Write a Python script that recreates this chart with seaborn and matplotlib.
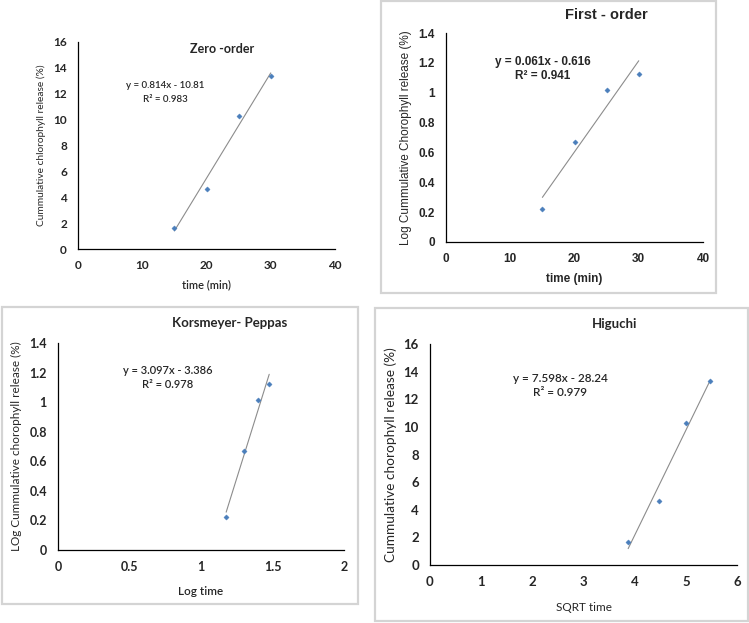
import matplotlib
matplotlib.use("Agg")
import matplotlib.pyplot as plt
import seaborn as sns
import pandas as pd
import numpy as np
from matplotlib.patches import Rectangle

sns.set_theme(style="white")
plt.rcParams['font.family'] = ['Lato', 'DejaVu Sans']

# ---- data ----
time_min = [15, 20, 25, 30]
cum_release = [1.65, 4.65, 10.3, 13.35]
log_cum_release = [0.22, 0.67, 1.015, 1.125]
log_time = [1.176, 1.301, 1.398, 1.477]
sqrt_time = [3.873, 4.472, 5.0, 5.477]

zero_fit = (0.814, -10.81)
first_fit = (0.061, -0.616)
kp_fit = (3.097, -3.386)
hig_fit = (7.598, -28.24)

W, H = 749, 623
fig = plt.figure(figsize=(W / 100, H / 100), dpi=100)

def px_axes(l, r, t, b):
    return fig.add_axes([l / W, 1 - b / H, (r - l) / W, (b - t) / H])

def frame(l, r, t, b):
    fig.patches.append(Rectangle((l / W, 1 - b / H), (r - l) / W, (b - t) / H,
                                 transform=fig.transFigure, fill=False,
                                 edgecolor='#d4d4d4', linewidth=1.6, zorder=0))

MARK = '#4a7ebb'

def panel(ax, x, y, fit, xlim, xticks, ylim, yticks, xlabel, ylabel, fam, tick_fs, ylab_fs, xlab_fs, xlab_w, xpad=6):
    df = pd.DataFrame({'x': x, 'y': y})
    xs = [min(x), max(x)]
    ldf = pd.DataFrame({'x': xs, 'y': [fit[0] * v + fit[1] for v in xs]})
    sns.lineplot(data=ldf, x='x', y='y', ax=ax, color='#8c8c8c', linewidth=0.8)
    sns.scatterplot(data=df, x='x', y='y', ax=ax, marker='D', s=7, color=MARK,
                    edgecolor=MARK, linewidth=0.3, zorder=3)
    ax.set_xlim(*xlim)
    ax.set_ylim(*ylim)
    ax.set_xticks(xticks)
    ax.set_yticks(yticks)
    ax.set_xticklabels([('%g' % v) for v in xticks], fontsize=tick_fs, fontweight='bold', family=fam)
    ax.set_yticklabels([('%g' % v) for v in yticks], fontsize=tick_fs, fontweight='bold', family=fam)
    ax.set_xlabel(xlabel, fontsize=xlab_fs, fontweight=xlab_w, family=fam, labelpad=xpad)
    ax.set_ylabel(ylabel, fontsize=ylab_fs, family=fam, labelpad=5)
    for s in ['top', 'right']:
        ax.spines[s].set_visible(False)
    for s in ['left', 'bottom']:
        ax.spines[s].set_color('black')
        ax.spines[s].set_linewidth(0.9)
    ax.tick_params(axis='both', direction='out', length=3, width=0.8, color='black', pad=5)
    ax.set_facecolor('none')

cal = ['Lato', 'DejaVu Sans']
ari = ['Liberation Sans', 'DejaVu Sans']

# frames
frame(381, 716, 1, 293)
frame(2, 358, 307, 604)
frame(375, 748, 308, 621)

# Panel 1: Zero-order
ax1 = px_axes(78, 335, 42, 249)
panel(ax1, time_min, cum_release, zero_fit, (0, 40), [0, 10, 20, 30, 40], (0, 16),
      list(range(0, 17, 2)), 'time (min)', 'Cummulative chlorophyll release (%)', cal, 8.5, 7.3, 8, 'semibold')
fig.text(222 / W, 1 - 49 / H, 'Zero -order', ha='center', va='center', fontsize=9, fontweight='bold', family=cal)
fig.text(165 / W, 1 - 86 / H, 'y = 0.814x - 10.81', ha='center', va='center', fontsize=7, fontweight='semibold', family=cal)
fig.text(165 / W, 1 - 99 / H, 'R² = 0.983', ha='center', va='center', fontsize=7, fontweight='semibold', family=cal)

# Panel 2: First-order
ax2 = px_axes(446, 703, 33, 242)
panel(ax2, time_min, log_cum_release, first_fit, (0, 40), [0, 10, 20, 30, 40], (0, 1.4),
      [0, 0.2, 0.4, 0.6, 0.8, 1.0, 1.2, 1.4], 'time (min)', 'Log Cummulative Chorophyll release (%)',
      ari, 8.5, 8.5, 8.5, 'bold')
fig.text(606 / W, 1 - 15 / H, 'First - order', ha='center', va='center', fontsize=10.5, fontweight='bold', family=ari)
fig.text(543 / W, 1 - 62 / H, 'y = 0.061x - 0.616', ha='center', va='center', fontsize=8.5, fontweight='bold', family=ari)
fig.text(543 / W, 1 - 76 / H, 'R² = 0.941', ha='center', va='center', fontsize=8.5, fontweight='bold', family=ari)

# Panel 3: Korsmeyer-Peppas
ax3 = px_axes(58, 344, 343, 550)
panel(ax3, log_time, log_cum_release, kp_fit, (0, 2), [0, 0.5, 1, 1.5, 2], (0, 1.4),
      [0, 0.2, 0.4, 0.6, 0.8, 1.0, 1.2, 1.4], 'Log time', 'LOg Cummulative chorophyll release (%)',
      cal, 9, 8.5, 8.5, 'semibold', xpad=9)
fig.text(230 / W, 1 - 323 / H, 'Korsmeyer- Peppas', ha='center', va='center', fontsize=9.5, fontweight='bold', family=cal)
fig.text(168 / W, 1 - 370 / H, 'y = 3.097x - 3.386', ha='center', va='center', fontsize=8, fontweight='semibold', family=cal)
fig.text(168 / W, 1 - 384 / H, 'R² = 0.978', ha='center', va='center', fontsize=8, fontweight='semibold', family=cal)

# Panel 4: Higuchi
ax4 = px_axes(430, 737, 344, 565)
panel(ax4, sqrt_time, cum_release, hig_fit, (0, 6), [0, 1, 2, 3, 4, 5, 6], (0, 16),
      list(range(0, 17, 2)), 'SQRT time', 'Cummulative chorophyll release (%)',
      cal, 9.5, 9.8, 8.5, 'normal', xpad=10)
fig.text(615 / W, 1 - 324 / H, 'Higuchi', ha='center', va='center', fontsize=9.5, fontweight='bold', family=cal)
fig.text(560 / W, 1 - 378 / H, 'y = 7.598x - 28.24', ha='center', va='center', fontsize=8.5, fontweight='semibold', family=cal)
fig.text(560 / W, 1 - 393 / H, 'R² = 0.979', ha='center', va='center', fontsize=8.5, fontweight='semibold', family=cal)

fig.savefig('out.png', dpi=100, facecolor='white')
